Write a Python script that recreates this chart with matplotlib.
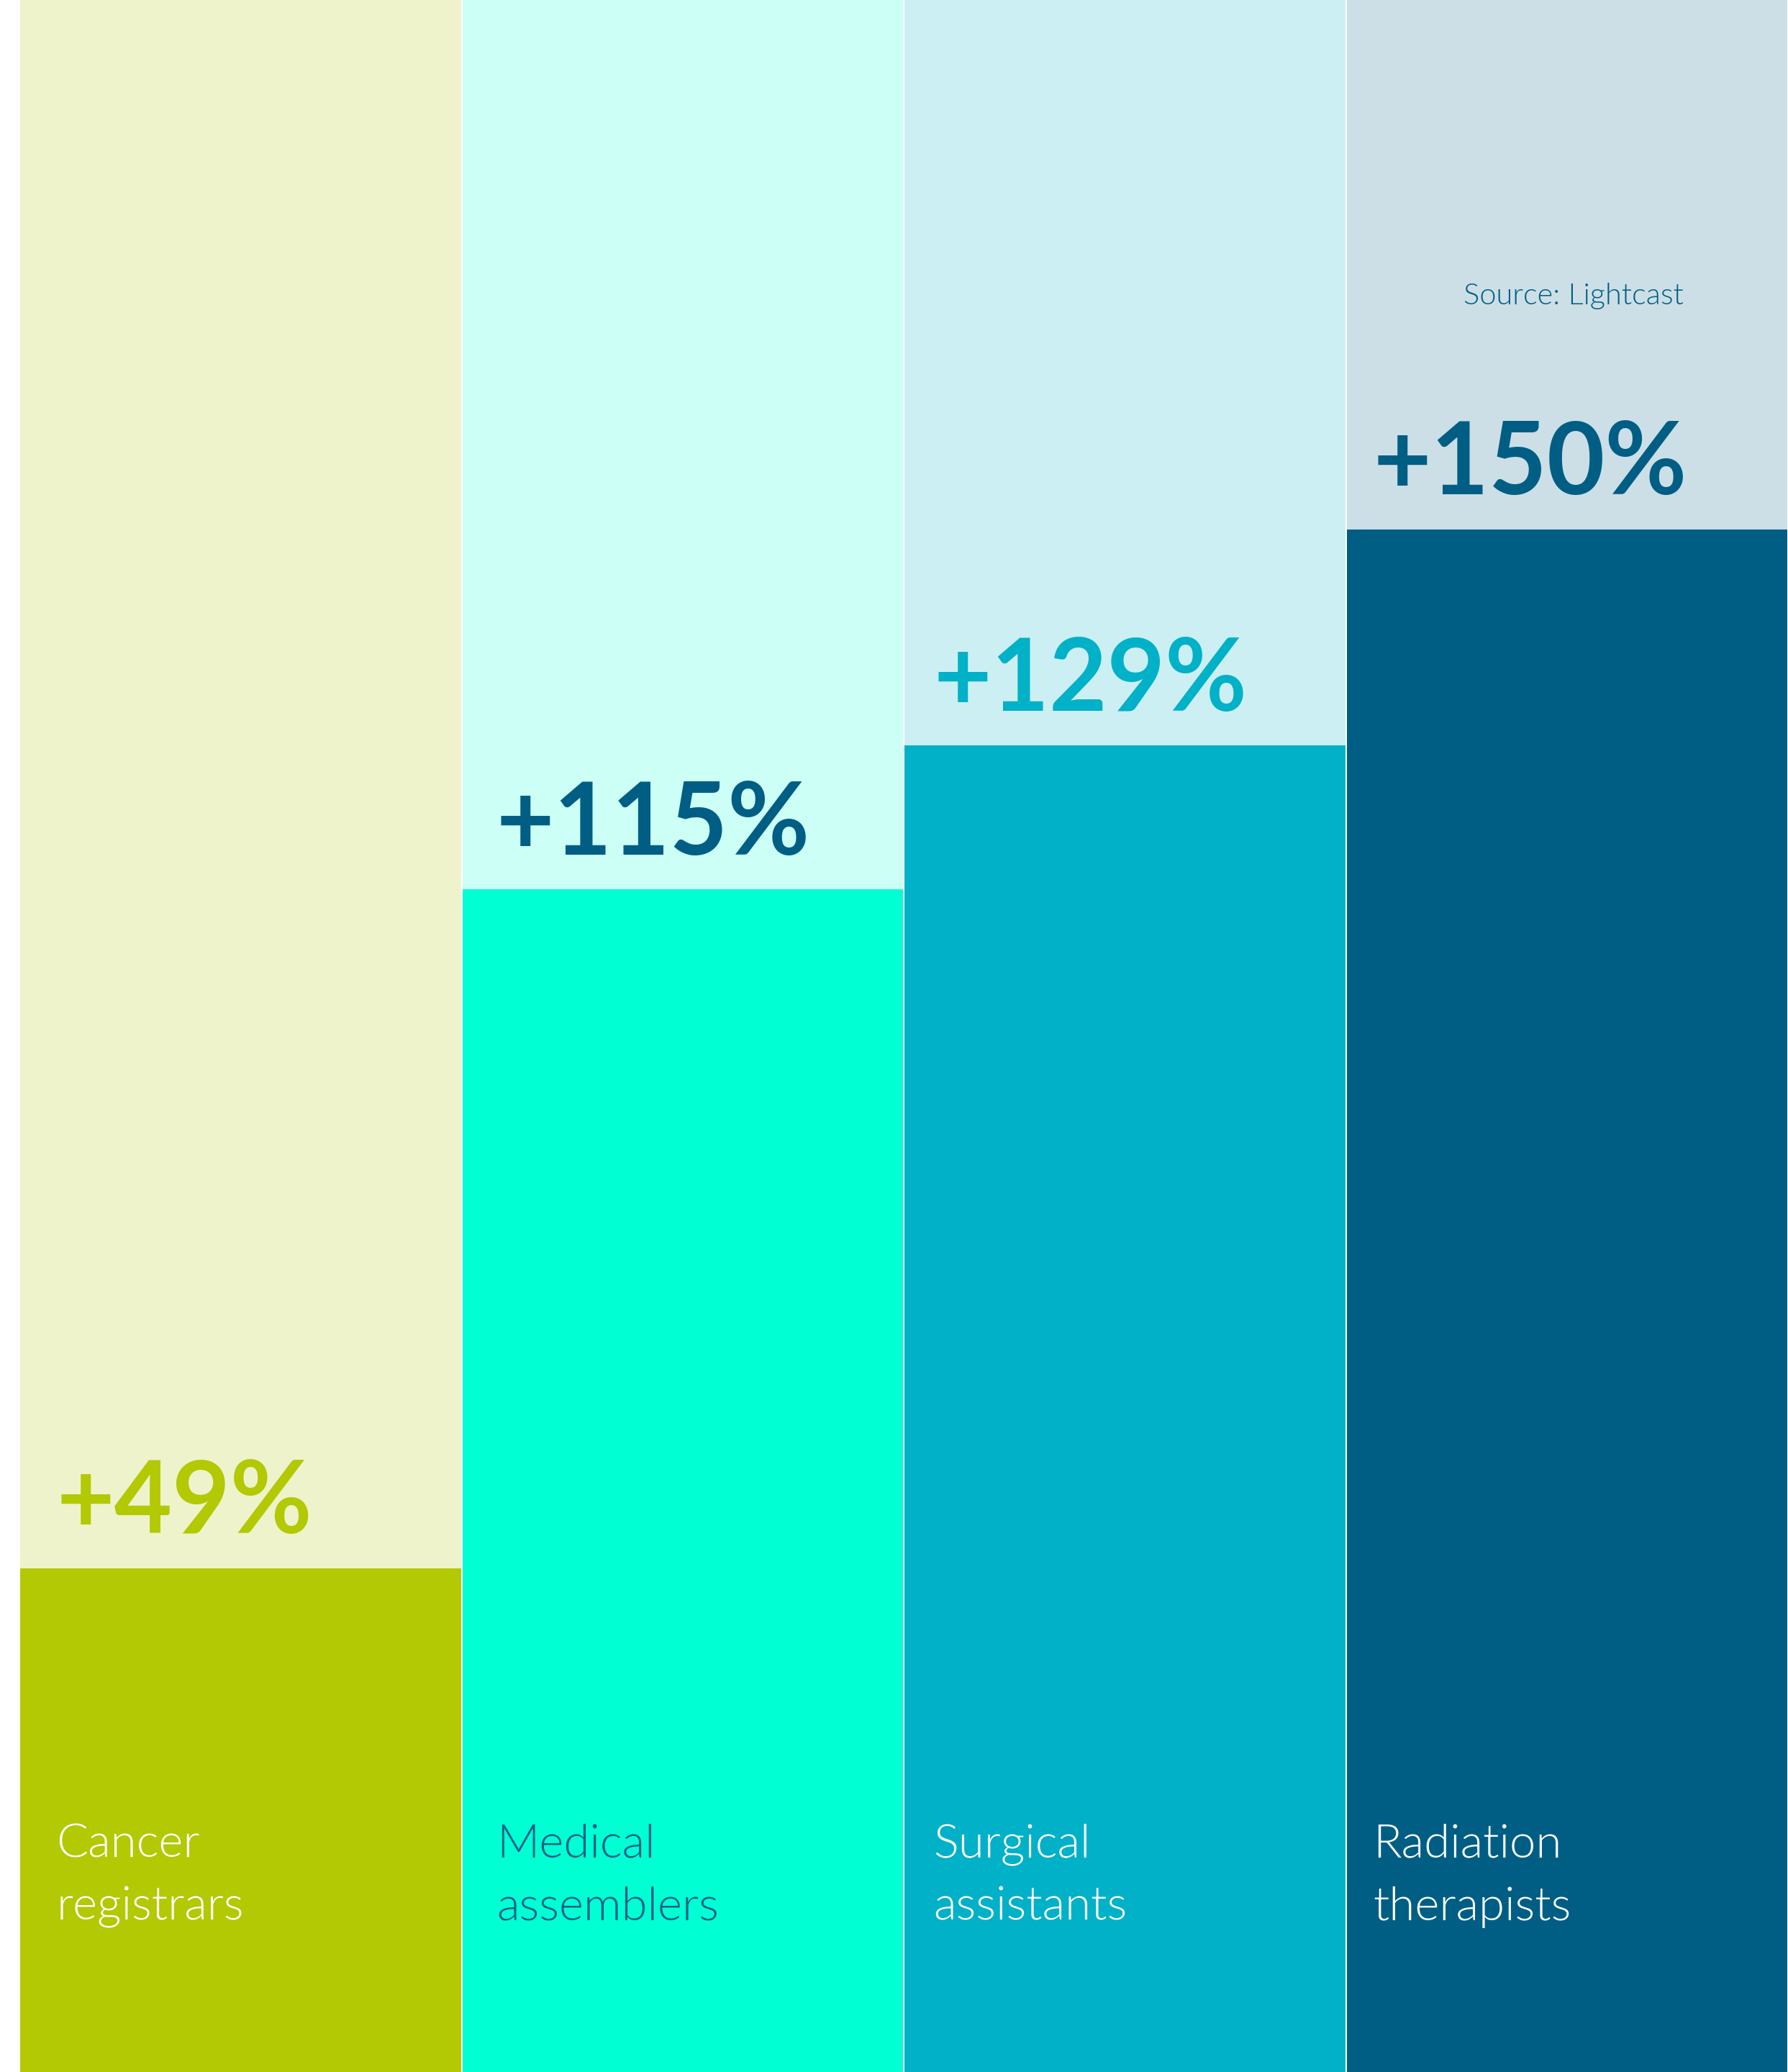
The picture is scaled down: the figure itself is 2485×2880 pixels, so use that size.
import matplotlib
matplotlib.use("Agg")
import matplotlib.pyplot as plt

# ---- data ----
categories = ["Cancer registrars", "Medical assemblers", "Surgical assistants", "Radiation therapists"]
growth_pct = [49, 115, 129, 150]
value_labels = ["+49%", "+115%", "+129%", "+150%"]
source_text = "Source: Lightcast"

# ---- style ----
dark_colors = ["#B2C904", "#00FFD2", "#00B1C8", "#005E84"]
light_colors = ["#EEF3CC", "#CCFFF6", "#CCEFF4", "#CCDFE6"]
value_colors = ["#B2C904", "#005E84", "#00B1C8", "#005E84"]
label_colors = ["white", "#005E84", "white", "white"]
text_dx = [0.083, 0.078, 0.067, 0.061]   # left inset of texts within each column

W, H = 2485, 2880
fig = plt.figure(figsize=(W / 100, H / 100), dpi=100)
fig.patch.set_facecolor("white")
left = 27.5 / W
ax = fig.add_axes([left, 0, 1 - left, 1])
ymax = 201.5
ax.set_xlim(-0.5, len(categories) - 0.5)
ax.set_ylim(0, ymax)
ax.axis("off")

x = list(range(len(categories)))
ax.bar(x, [ymax] * len(x), width=0.997, color=light_colors, linewidth=0)
ax.bar(x, growth_pct, width=0.997, color=dark_colors, linewidth=0)

xt = ax.get_xaxis_transform()
for i, (cat, val, lab) in enumerate(zip(categories, growth_pct, value_labels)):
    x0 = i - 0.5 + text_dx[i]
    ax.text(x0, val + 3.4, lab, ha="left", va="baseline", fontsize=100,
            fontfamily="Lato", fontweight="bold", color=value_colors[i])
    w1, w2 = cat.split(" ", 1)
    ax.text(x0, 0.1037, w1, transform=xt, ha="left", va="baseline", fontsize=47,
            fontfamily="Lato", fontweight=300, color=label_colors[i])
    ax.text(x0, 0.0733, w2, transform=xt, ha="left", va="baseline", fontsize=47,
            fontfamily="Lato", fontweight=300, color=label_colors[i])

ax.text(3.015, 1 - 422.7 / H, source_text, transform=xt, ha="center", va="baseline",
        fontsize=30, fontfamily="Lato", fontweight=300, color="#005E84")

fig.savefig("out.png", dpi=100, facecolor="white")
